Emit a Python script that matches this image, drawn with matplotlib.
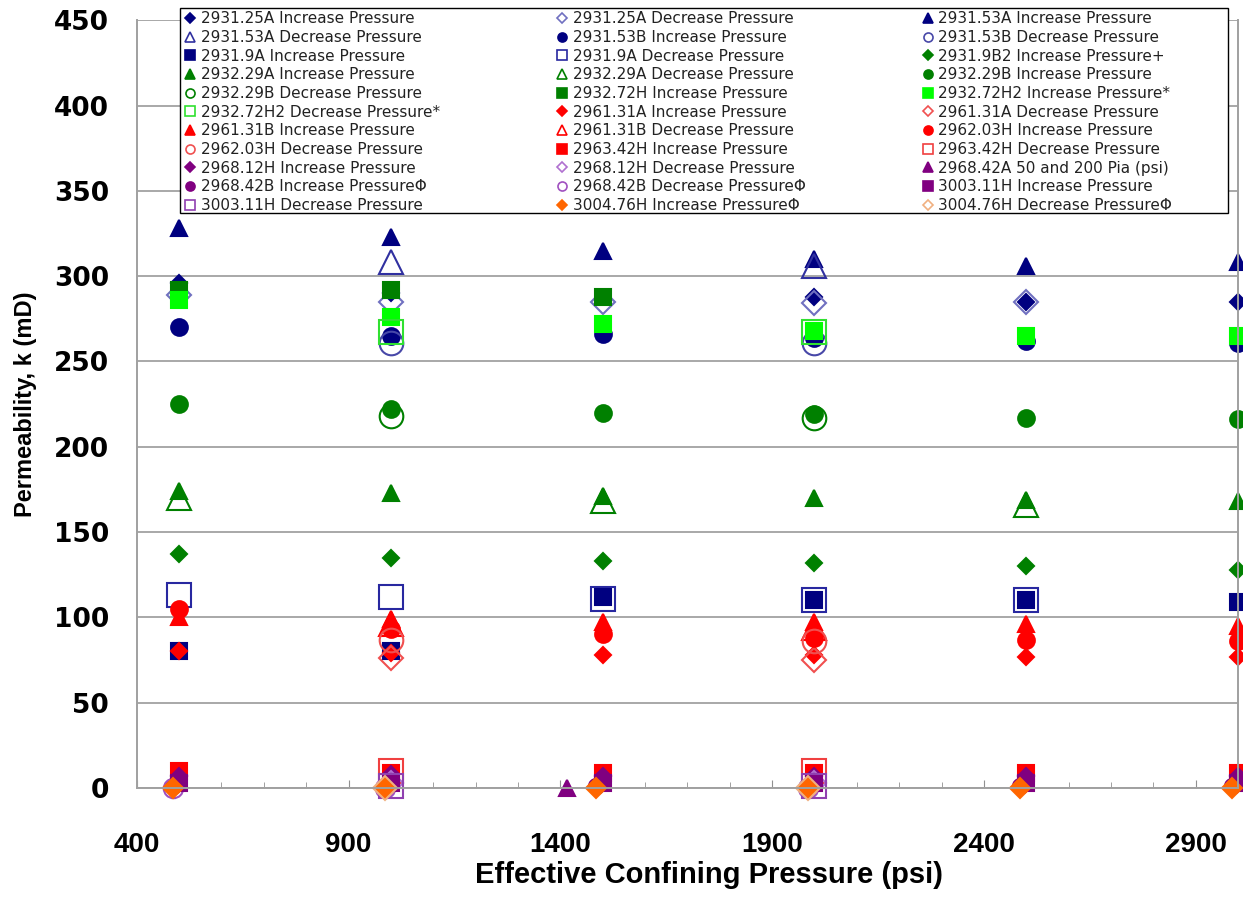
import numpy as np
import matplotlib.pyplot as plt
from matplotlib.lines import Line2D
from matplotlib.patches import Rectangle
from matplotlib.ticker import MultipleLocator

nan = np.nan

# confining pressure steps (psi)
pressure = [500, 1000, 1500, 2000, 2500, 3000]
pressure_shift = [485, 985, 1485, 1985, 2485, 2985]
pressure_2968_42a = [1415]

# permeability (mD) per sample / loading direction
k_2931_25a_inc = [296, 290, nan, 288, 285, 285]
k_2931_25a_dec = [289, 285, 285, 284, 285, nan]
k_2931_53a_inc = [328, 323, 315, 310, 306, 308]
k_2931_53a_dec = [nan, 308, nan, 306, nan, nan]
k_2931_53b_inc = [270, 265, 266, 264, 262, 261]
k_2931_53b_dec = [nan, 261, nan, 261, nan, nan]
k_2931_9a_inc = [80, 80, 112, 110, 110, 109]
k_2931_9a_dec = [113, 112, 111, 110, 110, nan]
k_2931_9b2_inc = [137, 135, 133, 132, 130, 128]
k_2932_29a_inc = [174, 173, 171, 170, 169, 168]
k_2932_29a_dec = [170, nan, 168, nan, 166, nan]
k_2932_29b_inc = [225, 222, 220, 219, 217, 216]
k_2932_29b_dec = [nan, 218, nan, 217, nan, nan]
k_2932_72h_inc = [292, 292, 288, nan, nan, nan]
k_2932_72h2_inc = [286, 276, 272, 268, 265, 265]
k_2932_72h2_dec = [nan, 267, nan, 267, nan, nan]
k_2961_31a_inc = [80, 79, 78, 78, 77, 77]
k_2961_31a_dec = [nan, 76, nan, 75, nan, nan]
k_2961_31b_inc = [100, 99, 97, 97, 96, 95]
k_2961_31b_dec = [nan, 96, nan, 94, nan, nan]
k_2962_03h_inc = [105, 93, 90, 88, 87, 86]
k_2962_03h_dec = [nan, 87, nan, 86, nan, nan]
k_2963_42h_inc = [10, 9, 9, 9, 9, 9]
k_2963_42h_dec = [nan, 10, nan, 10, nan, nan]
k_2968_12h_inc = [7, 8, 7, 7, 7, 7]
k_2968_12h_dec = [nan, 3, nan, 3, nan, nan]
k_2968_42a = [0]
k_2968_42b_inc = [1, 1, 1, 1, 1, 1]
k_2968_42b_dec = [0, 0, nan, 0, nan, nan]
k_3003_11h_inc = [3, 3, 3, 3, 3, 3]
k_3003_11h_dec = [nan, 1, nan, 1, nan, nan]
k_3004_76h_inc = [0, 0, 0, 0, 0, 0]
k_3004_76h_dec = [nan, 0, nan, 0, nan, nan]

NAVY = '#000080'
GREEN = '#008000'
LIME = '#00FF00'
RED = '#FF0000'
PURPLE = '#800080'
ORANGE = '#FF6600'
NO = 'none'

# label, x, y, marker, face, edge, size
series = [
    ('2931.25A Increase Pressure', pressure, k_2931_25a_inc, 'D', NAVY, NAVY, 8.5),
    ('2931.25A Decrease Pressure', pressure, k_2931_25a_dec, 'D', NO, '#7070C0', 12),
    ('2931.53A Increase Pressure', pressure, k_2931_53a_inc, '^', NAVY, NAVY, 12),
    ('2931.53A Decrease Pressure', pressure, k_2931_53a_dec, '^', NO, '#3030A0', 17),
    ('2931.53B Increase Pressure', pressure, k_2931_53b_inc, 'o', NAVY, NAVY, 12),
    ('2931.53B Decrease Pressure', pressure, k_2931_53b_dec, 'o', NO, '#4848A8', 17),
    ('2931.9A Increase Pressure', pressure, k_2931_9a_inc, 's', NAVY, NAVY, 11),
    ('2931.9A Decrease Pressure', pressure, k_2931_9a_dec, 's', NO, '#2828A0', 17),
    ('2931.9B2 Increase Pressure+', pressure, k_2931_9b2_inc, 'D', GREEN, GREEN, 8.5),
    ('2932.29A Increase Pressure', pressure, k_2932_29a_inc, '^', GREEN, GREEN, 12),
    ('2932.29A Decrease Pressure', pressure, k_2932_29a_dec, '^', NO, GREEN, 17),
    ('2932.29B Increase Pressure', pressure, k_2932_29b_inc, 'o', GREEN, GREEN, 12),
    ('2932.29B Decrease Pressure', pressure, k_2932_29b_dec, 'o', NO, GREEN, 17),
    ('2932.72H Increase Pressure', pressure, k_2932_72h_inc, 's', GREEN, GREEN, 11),
    ('2932.72H2 Increase Pressure*', pressure, k_2932_72h2_inc, 's', LIME, LIME, 11),
    ('2932.72H2 Decrease Pressure*', pressure, k_2932_72h2_dec, 's', NO, '#30E030', 17),
    ('2961.31A Increase Pressure', pressure, k_2961_31a_inc, 'D', RED, RED, 8.5),
    ('2961.31A Decrease Pressure', pressure, k_2961_31a_dec, 'D', NO, '#F05050', 12),
    ('2961.31B Increase Pressure', pressure, k_2961_31b_inc, '^', RED, RED, 12),
    ('2961.31B Decrease Pressure', pressure, k_2961_31b_dec, '^', NO, RED, 17),
    ('2962.03H Increase Pressure', pressure, k_2962_03h_inc, 'o', RED, RED, 12),
    ('2962.03H Decrease Pressure', pressure, k_2962_03h_dec, 'o', NO, '#F05050', 17),
    ('2963.42H Increase Pressure', pressure, k_2963_42h_inc, 's', RED, RED, 11),
    ('2963.42H Decrease Pressure', pressure, k_2963_42h_dec, 's', NO, '#F04040', 17),
    ('2968.12H Increase Pressure', pressure, k_2968_12h_inc, 'D', PURPLE, PURPLE, 8.5),
    ('2968.12H Decrease Pressure', pressure, k_2968_12h_dec, 'D', NO, '#B070D0', 12),
    ('2968.42A 50 and 200 Pia (psi)', pressure_2968_42a, k_2968_42a, '^', PURPLE, PURPLE, 12),
    ('2968.42B Increase Pressure\u03a6', pressure_shift, k_2968_42b_inc, 'o', PURPLE, PURPLE, 11),
    ('2968.42B Decrease Pressure\u03a6', pressure_shift, k_2968_42b_dec, 'o', NO, '#A050C0', 14),
    ('3003.11H Increase Pressure', pressure, k_3003_11h_inc, 's', PURPLE, PURPLE, 11),
    ('3003.11H Decrease Pressure', pressure, k_3003_11h_dec, 's', NO, '#9040B0', 17),
    ('3004.76H Increase Pressure\u03a6', pressure_shift, k_3004_76h_inc, 'D', ORANGE, ORANGE, 10),
    ('3004.76H Decrease Pressure\u03a6', pressure_shift, k_3004_76h_dec, 'D', NO, '#F0B080', 12),
]

fig = plt.figure(figsize=(12.43, 8.98), dpi=100)
ax = fig.add_axes([0.110, 0.1225, 0.886, 0.855])

handles = []
for label, xs, ys, mk, fc, ec, ms in series:
    ax.plot(xs, ys, linestyle='none', marker=mk, markersize=ms,
            markerfacecolor=fc, markeredgecolor=ec, markeredgewidth=1.5,
            clip_on=False)
    handles.append(Line2D([], [], linestyle='none', marker=mk,
                          markersize=6.5 if mk != 'D' else 5,
                          markerfacecolor=fc, markeredgecolor=ec,
                          markeredgewidth=1.2, label=label))

ax.set_xlim(400, 3000)
ax.set_ylim(0, 450)
ax.set_xticks([400, 900, 1400, 1900, 2400, 2900])
ax.xaxis.set_minor_locator(MultipleLocator(100))
ax.yaxis.set_major_locator(MultipleLocator(50))
ax.grid(axis='y', color='#A8A8A8', linewidth=1.4)
ax.set_axisbelow(True)

ax.spines['top'].set_visible(False)
for side in ['left', 'bottom', 'right']:
    ax.spines[side].set_color('#A0A0A0')
    ax.spines[side].set_linewidth(1.4)

ax.tick_params(axis='x', which='both', direction='in', color='#909090',
               pad=32)
ax.tick_params(axis='x', which='major', length=6)
ax.tick_params(axis='x', which='minor', length=4)
ax.tick_params(axis='y', length=0, pad=20)

for t in ax.get_yticklabels():
    t.set_fontfamily('DejaVu Sans')
    t.set_fontweight('bold')
    t.set_fontsize(19)
for t in ax.get_xticklabels():
    t.set_fontfamily('Liberation Sans')
    t.set_fontweight('bold')
    t.set_fontsize(20)

ax.set_xlabel('Effective Confining Pressure (psi)', fontsize=21,
              fontweight='bold', family='Liberation Sans')
ax.xaxis.set_label_coords(0.52, -0.095)
ax.set_ylabel('Permeability, k (mD)', fontsize=17, fontweight='bold',
              family='Liberation Sans', labelpad=12)

# boxed legend, entries read row by row across three columns
box = Rectangle((0.039, 0.749), 0.952, 0.267, transform=ax.transAxes,
                facecolor='white', edgecolor='black', linewidth=1.0,
                clip_on=False, zorder=4.5)
ax.add_patch(box)

nrow = 11
ordered = [handles[r * 3 + c] for c in range(3) for r in range(nrow)]
leg = ax.legend(handles=ordered, ncol=3, loc='upper left',
                bbox_to_anchor=(0.040, 1.0156), borderaxespad=0,
                frameon=False, prop={'family': 'DejaVu Sans', 'size': 11},
                handlelength=0.8, handletextpad=0.3, labelspacing=0.24,
                borderpad=0.2, columnspacing=7.6)
leg.set_zorder(5)
for t in leg.get_texts():
    t.set_color('#222222')

fig.savefig('out.png', dpi=100)
